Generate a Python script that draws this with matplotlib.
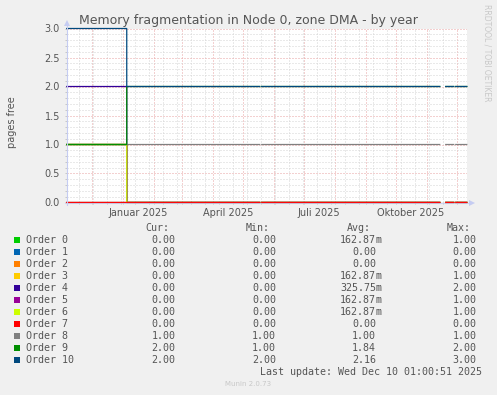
import datetime as dt
import numpy as np
import matplotlib
matplotlib.use("Agg")
import matplotlib.pyplot as plt
import matplotlib.dates as mdates
from matplotlib.patches import Rectangle
from matplotlib.lines import Line2D

# ---------------- data ----------------
orders = [f"Order {i}" for i in range(11)]
colors = ["#00CC00", "#0066B3", "#FF8000", "#FFCC00", "#330099", "#990099",
          "#CCFF00", "#FF0000", "#808080", "#008F00", "#00487D"]
before_values = [1, 0, 0, 1, 2, 1, 1, 0, 1, 1, 3]   # level before the change
after_values = [0, 0, 0, 0, 0, 0, 0, 0, 1, 2, 2]    # level after the change
change_date = dt.datetime(2025, 1, 5)
data_start = dt.datetime(2024, 11, 6)
data_end = dt.datetime(2025, 12, 11)
gaps = [(dt.datetime(2025, 3, 10), dt.datetime(2025, 3, 11)),
        (dt.datetime(2025, 5, 18), dt.datetime(2025, 5, 20)),
        (dt.datetime(2025, 11, 14), dt.datetime(2025, 11, 20)),
        (dt.datetime(2025, 11, 28), dt.datetime(2025, 11, 30))]

cur_vals = ["0.00", "0.00", "0.00", "0.00", "0.00", "0.00", "0.00", "0.00", "1.00", "2.00", "2.00"]
min_vals = ["0.00", "0.00", "0.00", "0.00", "0.00", "0.00", "0.00", "0.00", "1.00", "1.00", "2.00"]
avg_vals = ["162.87m", "0.00", "0.00", "162.87m", "325.75m", "162.87m", "162.87m", "0.00", "1.00", "1.84", "2.16"]
max_vals = ["1.00", "0.00", "0.00", "1.00", "2.00", "1.00", "1.00", "0.00", "1.00", "2.00", "3.00"]

x_labels = ["Januar 2025", "April 2025", "Juli 2025", "Oktober 2025"]
x_label_dates = [dt.datetime(2025, 1, 16), dt.datetime(2025, 4, 16),
                 dt.datetime(2025, 7, 16), dt.datetime(2025, 10, 16)]
y_ticks = [0.0, 0.5, 1.0, 1.5, 2.0, 2.5, 3.0]

title = "Memory fragmentation in Node 0, zone DMA - by year"
ylabel = "pages free"
last_update = "Last update: Wed Dec 10 01:00:51 2025"

# ---------------- figure ----------------
W, H = 497, 395
fig = plt.figure(figsize=(W / 100, H / 100), dpi=100, facecolor="#F0F0F0")

L, R, T, B = 67, 467, 28.5, 202.5
ax = fig.add_axes([L / W, 1 - B / H, (R - L) / W, (B - T) / H])
ax.set_facecolor("white")

x_start = dt.datetime(2024, 11, 6, 6)
x_end = x_start + dt.timedelta(days=400)

days = mdates.drange(data_start, data_end + dt.timedelta(days=1), dt.timedelta(days=1))
cnum = mdates.date2num(change_date)
for i in range(11):
    vals = np.where(days < cnum, before_values[i], after_values[i]).astype(float)
    for g0, g1 in gaps:
        vals[(days >= mdates.date2num(g0)) & (days < mdates.date2num(g1))] = np.nan
    ax.plot(days, vals, drawstyle="steps-post", color=colors[i], lw=0.9,
            clip_on=False, zorder=3 + i * 0.01, solid_joinstyle="miter", snap=False)

ax.set_xlim(mdates.date2num(x_start), mdates.date2num(x_end))
ax.set_ylim(0, 3)

# grid
month_starts = []
y, m = 2024, 12
while dt.datetime(y, m, 1) < x_end:
    month_starts.append(mdates.date2num(dt.datetime(y, m, 1)))
    m += 1
    if m > 12:
        m = 1
        y += 1
biweekly = mdates.drange(dt.datetime(2024, 11, 18), x_end, dt.timedelta(days=14))
ax.set_xticks(month_starts)
ax.set_xticks(biweekly, minor=True)
ax.set_xticklabels([])
ax.set_yticks(y_ticks)
ax.set_yticklabels([f"{v:.1f}" for v in y_ticks])
ax.set_yticks(np.arange(0, 3.01, 0.1), minor=True)

dots = (0, (1, 2))
ax.grid(which="major", color="#E9A3A3", linestyle=dots, lw=0.72)
ax.grid(which="minor", color="#D4D4D4", linestyle=dots, lw=0.72)
ax.set_axisbelow(True)
ax.tick_params(which="both", length=1.5, width=0.72, color="#C8C8C8", direction="out")
ax.tick_params(axis="y", which="major", labelsize=7, labelcolor="#555555", pad=3.5)
for s in ax.spines.values():
    s.set_visible(False)

for lab, d in zip(x_labels, x_label_dates):
    ax.text(mdates.date2num(d), -0.235, lab, transform=ax.transData, ha="center",
            va="baseline", fontsize=7, color="#555555", clip_on=False)

# overlay in pixel coordinates
ov = fig.add_axes([0, 0, 1, 1], zorder=5)
ov.set_xlim(0, W)
ov.set_ylim(H, 0)
ov.axis("off")
ov.patch.set_alpha(0)

axis_col = "#C5CCF2"
ov.add_line(Line2D([L, L], [B + 2, 24], color=axis_col, lw=0.8))
ov.add_line(Line2D([L - 2, R + 3], [B, B], color=axis_col, lw=0.8, alpha=0.75))
ov.plot([L], [22.5], marker="^", color=axis_col, ms=4, mew=0)
ov.plot([R + 5], [B], marker=">", color=axis_col, ms=4, mew=0)

ov.text(248, 24, title, ha="center", va="baseline", fontsize=9, color="#555555")
ov.text(12, 122, ylabel, ha="center", va="center", rotation=90, fontsize=7, color="#555555")
ov.text(487, 53, "RRDTOOL / TOBI OETIKER", ha="center", va="center", rotation=270,
        fontsize=5.5, color="#C8C8C8")

mono = "DejaVu Sans Mono"
fs = 7.2
tcol = "#555555"
hy = 230.7
ov.text(145, hy, "Cur:", ha="left", va="baseline", fontsize=fs, family=mono, color=tcol)
ov.text(246, hy, "Min:", ha="left", va="baseline", fontsize=fs, family=mono, color=tcol)
ov.text(346.7, hy, "Avg:", ha="left", va="baseline", fontsize=fs, family=mono, color=tcol)
ov.text(446.7, hy, "Max:", ha="left", va="baseline", fontsize=fs, family=mono, color=tcol)
for i in range(11):
    yb = 243.3 + 12 * i
    ov.add_patch(Rectangle((14, yb - 6), 6, 6, facecolor=colors[i], edgecolor="none"))
    ov.text(26, yb, orders[i], ha="left", va="baseline", fontsize=fs, family=mono, color=tcol)
    ov.text(175.5, yb, cur_vals[i], ha="right", va="baseline", fontsize=fs, family=mono, color=tcol)
    ov.text(276, yb, min_vals[i], ha="right", va="baseline", fontsize=fs, family=mono, color=tcol)
    a = avg_vals[i]
    if a.endswith("m"):
        ov.text(376, yb, a[:-1], ha="right", va="baseline", fontsize=fs, family=mono, color=tcol)
        ov.text(376, yb, "m", ha="left", va="baseline", fontsize=fs, family=mono, color=tcol)
    else:
        ov.text(376, yb, a, ha="right", va="baseline", fontsize=fs, family=mono, color=tcol)
    ov.text(476.7, yb, max_vals[i], ha="right", va="baseline", fontsize=fs, family=mono, color=tcol)

ov.text(481.7, 375, last_update, ha="right", va="baseline", fontsize=fs, family=mono, color=tcol)
ov.text(248.5, 385.7, "Munin 2.0.73", ha="center", va="baseline", fontsize=5, color="#C8C8C8")

fig.savefig("out.png", dpi=100, facecolor=fig.get_facecolor())
